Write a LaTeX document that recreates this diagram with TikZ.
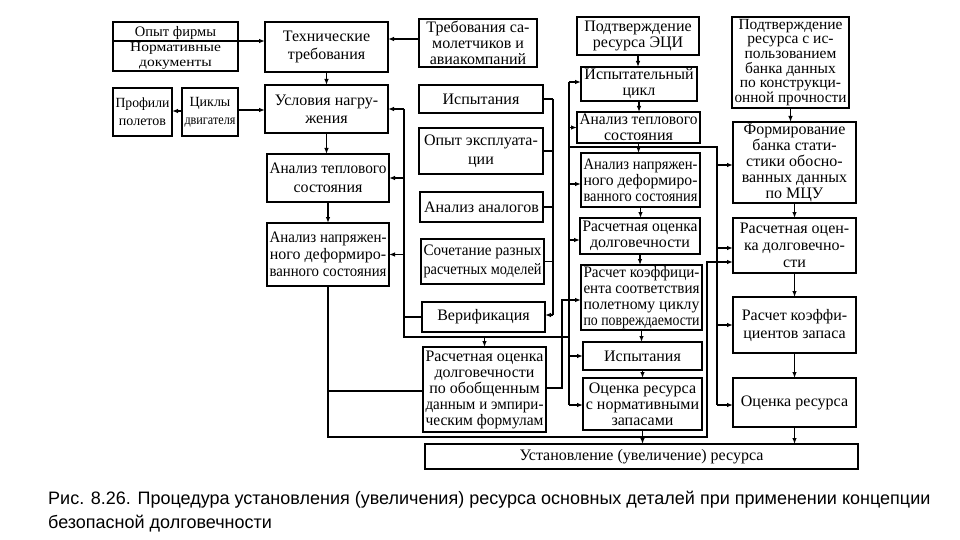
\documentclass[tikz,border=0pt]{standalone}
\usepackage{fontspec}
\usepackage{graphicx}
\setmainfont{Liberation Serif}
\newfontfamily\capfont{Liberation Sans}
\usetikzlibrary{arrows.meta}
\newlength\mxw
\newlength\fitw
\newsavebox\fitbox
\newcommand\fitl[1]{\sbox\fitbox{#1}\setlength\fitw{\wd\fitbox}\ifdim\fitw>\mxw\pgfmathsetmacro\myfac{\mxw/\fitw}\scalebox{\myfac}[1]{\usebox\fitbox}\else\usebox\fitbox\fi}
\newcommand\widel[1]{\scalebox{1.15}[1]{#1}}
\newcommand\mybox[7][]{\pgfmathsetlength\mxw{(#5)-(#3)-5}\node[bx,#1, minimum width={(#5)-(#3)}, minimum height={(#6)-(#4)}] (#2) at ({((#3)+(#5))/2},{((#4)+(#6))/2}) {#7};}
\begin{document}
\begin{tikzpicture}[x=1pt,y=-1pt,
  bx/.style={draw, line width=1.4pt, inner sep=0pt, outer sep=0pt, align=center, font=\fontsize{16}{16}\selectfont},
  arr/.style={-{Latex[length=6pt,width=4.5pt]}, line width=1.1pt},
  ln/.style={line width=1.1pt}]
\useasboundingbox (0,0) rectangle (960,540);
\fill[white] (0,0) rectangle (960,540);

% column 1
\mybox[font=\fontsize{14.5}{15}\selectfont, text depth=0pt]{firmA}{113}{22}{238}{41}{\fitl{Опыт фирмы}}
\mybox[font=\fontsize{13.5}{15}\selectfont]{firmB}{113}{41}{238}{71}{\widel{Нормативные}\\\widel{документы}}
\mybox[font=\fontsize{14}{18}\selectfont]{prof}{113}{88}{172}{136}{\fitl{Профили}\\\fitl{полетов}}
\mybox[font=\fontsize{14}{18}\selectfont]{cyc}{182}{88}{238}{136}{\fitl{Циклы}\\\fitl{двигателя}}
% column 2
\mybox[font=\fontsize{16}{18}\selectfont]{tech}{265}{22}{388}{72}{\fitl{Технические}\\\fitl{требования}}
\mybox[font=\fontsize{16}{18}\selectfont]{usl}{265}{85}{388}{133}{\fitl{Условия нагру-}\\\fitl{жения}}
\mybox[font=\fontsize{16}{19}\selectfont]{teplo1}{267}{154}{389}{202}{\fitl{Анализ теплового}\\\fitl{состояния}}
\mybox[font=\fontsize{16}{17}\selectfont]{napr1}{267}{223}{389}{286}{\fitl{Анализ напряжен-}\\\fitl{ного деформиро-}\\\fitl{ванного состояния}}
% column 3
\mybox{treb}{419}{19}{537}{67}{\fitl{Требования са-}\\\fitl{молетчиков и}\\\fitl{авиакомпаний}}
\mybox{isp1}{419}{85}{543}{113}{\fitl{Испытания}}
\mybox[font=\fontsize{16}{19}\selectfont]{opyt}{419}{128}{543}{174}{\fitl{Опыт эксплуата-}\\\fitl{ции}}
\mybox{analog}{420}{192}{543}{222}{\fitl{Анализ аналогов}}
\mybox[font=\fontsize{16}{19}\selectfont]{soch}{421}{239}{544}{284}{\fitl{Сочетание разных}\\\fitl{расчетных моделей}}
\mybox{verif}{422}{302}{545}{332}{\fitl{Верификация}}
\mybox{obob}{423}{347}{546}{432}{\fitl{Расчетная оценка}\\\fitl{долговечности}\\\fitl{по обобщенным}\\\fitl{данным и эмпири-}\\\fitl{ческим формулам}}
% column 4
\mybox{eci}{577}{17}{699}{55}{\fitl{Подтверждение}\\\fitl{ресурса ЭЦИ}}
\mybox{ispcyc}{581}{67}{697}{101}{\fitl{Испытательный}\\\fitl{цикл}}
\mybox{teplo2}{577}{112}{700}{143}{\fitl{Анализ теплового}\\\fitl{состояния}}
\mybox{napr2}{581}{153}{700}{207}{\fitl{Анализ напряжен-}\\\fitl{ного деформиро-}\\\fitl{ванного состояния}}
\mybox{rasch2}{580}{218}{700}{254}{\fitl{Расчетная оценка}\\\fitl{долговечности}}
\mybox{koef}{581}{265}{702}{330}{\fitl{Расчет коэффици-}\\\fitl{ента соответствия}\\\fitl{полетному циклу}\\\fitl{по повреждаемости}}
\mybox{isp2}{583}{342}{702}{370}{\fitl{Испытания}}
\mybox{otsnorm}{583}{378}{702}{430}{\fitl{Оценка ресурса}\\\fitl{с нормативными}\\\fitl{запасами}}
% column 5
\mybox[font=\fontsize{15.5}{14.7}\selectfont]{bank}{732}{17}{849}{108}{\fitl{Подтверждение}\\\fitl{ресурса с ис-}\\\fitl{пользованием}\\\fitl{банка данных}\\\fitl{по конструкци-}\\\fitl{онной прочности}}
\mybox{form}{733}{122}{856}{203}{\fitl{Формирование}\\\fitl{банка стати-}\\\fitl{стики обосно-}\\\fitl{ванных данных}\\\fitl{по МЦУ}}
\mybox[font=\fontsize{16}{17}\selectfont]{rasch3}{733}{218}{856}{273}{\fitl{Расчетная оцен-}\\\fitl{ка долговечно-}\\\fitl{сти}}
\mybox[font=\fontsize{16}{18}\selectfont]{zapas}{733}{297}{856}{353}{\fitl{Расчет коэффи-}\\\fitl{циентов запаса}}
\mybox{otsres}{733}{378}{856}{427}{\fitl{Оценка ресурса}}
% bottom
\mybox{ust}{425}{444}{858}{469}{Установление (увеличение) ресурса}

% caption
\node[anchor=base west, inner sep=0pt, font=\capfont\fontsize{18}{21}\selectfont] (cap1) at (48,504) {Рис. 8.26. Процедура установления (увеличения) ресурса основных деталей при применении концепции};
\node[anchor=base west, inner sep=0pt, font=\capfont\fontsize{18}{21}\selectfont] (cap2) at (48,528) {безопасной долговечности};

% left column connectors
\draw[arr] (firmB.north east) -- (firmB.north east -| tech.west);
\draw[arr] (treb.west |- 0,39) -- (tech.east |- 0,39);
\draw[arr] (tech.south) -- (tech.south |- usl.north);
\draw[arr] (cyc.west |- 0,111) -- (prof.east |- 0,111);
\draw[arr] (cyc.east |- 0,110) -- (usl.west |- 0,110);
\draw[arr] (usl.south) -- (usl.south |- teplo1.north);
\draw[arr] (teplo1.south) -- (teplo1.south |- napr1.north);

% verification bus (left)
\coordinate (L1) at (404,109);
\coordinate (L2) at (404,337);
\coordinate (L3) at (569,337);
\draw[ln] (verif.west) -- (verif.west -| L1);
\draw[ln] (L1) -- (L2) -- (L3);
\draw[arr] (L1) -- (usl.east |- L1);
\draw[arr] (teplo1.east -| L1) -- (teplo1.east);
\draw[arr] (napr1.east -| L1) -- (napr1.east);
\draw[arr] (obob.north |- L2) -- (obob.north);

% inputs to verification
\coordinate (V1) at (553,99);
\coordinate (V2) at (553,315);
\draw[ln] (isp1.east) -- (isp1.east -| V1);
\draw[ln] (opyt.east) -- (opyt.east -| V1);
\draw[ln] (analog.east) -- (analog.east -| V1);
\draw[ln] (soch.east) -- (soch.east -| V1);
\draw[ln] (V1) -- (V2);
\draw[arr] (V2) -- (verif.east |- V2);

% bus at x=569
\coordinate (M1) at (569,82);
\coordinate (M2) at (569,405);
\draw[ln] (M1) -- (M2);
\draw[arr] (M1) -- (ispcyc.west |- M1);
\draw[arr] (teplo2.west -| M1) -- (teplo2.west);
\draw[arr] (M1 |- 0,184) -- (napr2.west |- 0,184);
\draw[arr] (M1 |- 0,240) -- (rasch2.west |- 0,240);
\draw[arr] (isp2.west -| M1) -- (isp2.west);
\draw[arr] (M2) -- (otsnorm.west |- M2);

% obob -> koef
\coordinate (K1) at (562,388);
\coordinate (K2) at (562,300);
\draw[arr] (obob.east |- K1) -- (K1) -- (K2) -- (koef.west |- K2);

% bus at x=717
\coordinate (H1) at (569,147);
\coordinate (H2) at (717,147);
\coordinate (H3) at (717,405);
\draw[ln] (H1) -- (H2) -- (H3);
\draw[arr] (H2 |- 0,165) -- (form.west |- 0,165);
\draw[arr] (H2 |- 0,248) -- (rasch3.west |- 0,248);
\draw[arr] (zapas.west -| H2) -- (zapas.west);
\draw[arr] (H3) -- (otsres.west |- H3);

% bottom collector
\coordinate (B1) at (328,437);
\coordinate (B2) at (707,437);
\coordinate (B3) at (707,262);
\draw[arr] (napr1.south) -- (B1) -- (B2) -- (B3) -- (rasch3.west |- B3);
\draw[ln] (obob.west |- 0,391) -- (B1 |- 0,391);

% vertical chain, column 4
\draw[arr] (eci.south) -- (eci.south |- ispcyc.north);
\draw[arr] (ispcyc.south) -- (ispcyc.south |- teplo2.north);
\draw[arr] (teplo2.south) -- (teplo2.south |- napr2.north);
\draw[arr] (napr2.south) -- (napr2.south |- rasch2.north);
\draw[arr] (rasch2.south) -- (rasch2.south |- koef.north);
\draw[arr] (koef.south) -- (koef.south |- isp2.north);
\draw[arr] (isp2.south) -- (isp2.south |- otsnorm.north);
\draw[arr] (otsnorm.south) -- (otsnorm.south |- ust.north);
% vertical chain, column 5
\draw[arr] (bank.south) -- (bank.south |- form.north);
\draw[arr] (form.south) -- (form.south |- rasch3.north);
\draw[arr] (rasch3.south) -- (rasch3.south |- zapas.north);
\draw[arr] (zapas.south) -- (zapas.south |- otsres.north);
\draw[arr] (otsres.south) -- (otsres.south |- ust.north);
\end{tikzpicture}
\end{document}
